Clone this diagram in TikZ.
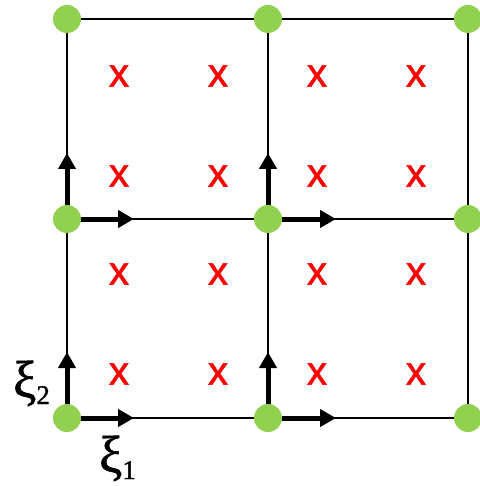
\documentclass[tikz,border=0pt]{standalone}
\usepackage{fontspec}
\setmainfont{Liberation Serif}
\newfontfamily\xfont[FakeBold=1.5]{Liberation Sans}
\newfontfamily\xifont[FakeBold=1.2]{Liberation Serif}
\usetikzlibrary{arrows.meta,backgrounds}
\definecolor{dotgreen}{HTML}{92D050}
\definecolor{xred}{HTML}{FF0000}
\tikzset{
  dot/.style={circle,fill=dotgreen,draw=none,minimum size=28pt,inner sep=0pt},
  gridline/.style={line width=2pt,black},
  vec/.style={line width=5pt,-{Triangle[length=16pt,width=17pt]}},
  cross/.style={text=xred,font=\xfont\fontsize{40}{40}\selectfont,inner sep=0pt},
  lab/.style={font=\xifont\fontsize{52}{52}\selectfont,inner sep=0pt,anchor=base west}
}
\newcommand{\subnum}[1]{\raisebox{-7pt}{\fontsize{27}{27}\selectfont #1}}
\begin{document}
\begin{tikzpicture}[x=1pt,y=-1pt]
\useasboundingbox (0,0) rectangle (479,486);
% dots
\node[dot] (d11) at (67,19) {};
\node[dot] (d12) at (268,19) {};
\node[dot] (d13) at (468,19) {};
\node[dot] (d21) at (67,219) {};
\node[dot] (d22) at (268,219) {};
\node[dot] (d23) at (468,219) {};
\node[dot] (d31) at (67,418) {};
\node[dot] (d32) at (268,418) {};
\node[dot] (d33) at (468,418) {};
% arrow ends
\coordinate (h31) at (134,418);
\coordinate (v31) at (67,352);
\coordinate (h32) at (336,418);
\coordinate (v32) at (268,352);
\coordinate (h21) at (134,219);
\coordinate (v21) at (67,153);
\coordinate (h22) at (336,219);
\coordinate (v22) at (268,153);
\begin{scope}[on background layer]
\draw[gridline] (d11.center) -- (d12.center) -- (d13.center);
\draw[gridline] (d21.center) -- (d22.center) -- (d23.center);
\draw[gridline] (d31.center) -- (d32.center) -- (d33.center);
\draw[gridline] (d11.center) -- (d21.center) -- (d31.center);
\draw[gridline] (d12.center) -- (d22.center) -- (d32.center);
\draw[gridline] (d13.center) -- (d23.center) -- (d33.center);
\draw[vec] (d31.center) -- (h31);
\draw[vec] (d31.center) -- (v31);
\draw[vec] (d32.center) -- (h32);
\draw[vec] (d32.center) -- (v32);
\draw[vec] (d21.center) -- (h21);
\draw[vec] (d21.center) -- (v21);
\draw[vec] (d22.center) -- (h22);
\draw[vec] (d22.center) -- (v22);
\end{scope}
% crosses
\foreach \cx [count=\i] in {119,218,317,416}{
  \foreach \cy [count=\j] in {76,176,274,374}{
    \node[cross] (x\j\i) at (\cx,\cy) {x};
  }
}
% labels
\node[lab] (xi2) at (13,397) {ξ\subnum{2}};
\node[lab] (xi1) at (99,472) {ξ\subnum{1}};
\end{tikzpicture}
\end{document}
